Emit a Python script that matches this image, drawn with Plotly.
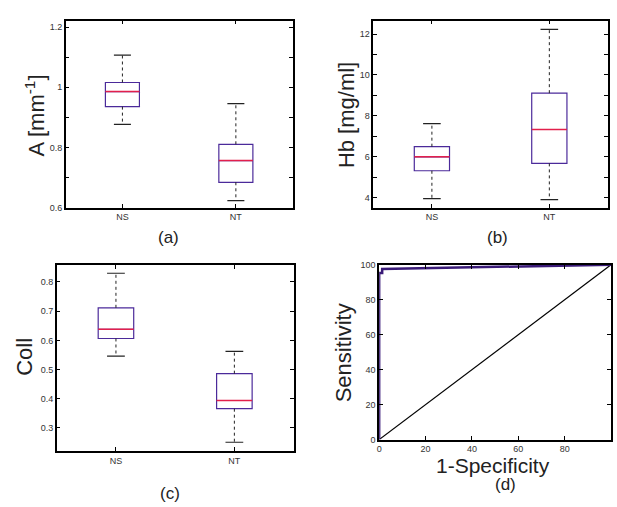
import plotly.graph_objects as go

W, H = 617, 507

categories = ["NS", "NT"]

# Panel (a): A [mm^-1]
a_lower = [0.877, 0.624]
a_q1 = [0.936, 0.685]
a_median = [0.986, 0.757]
a_q3 = [1.016, 0.811]
a_upper = [1.107, 0.946]

# Panel (b): Hb [mg/ml]
b_lower = [3.94, 3.90]
b_q1 = [5.31, 5.67]
b_median = [5.99, 7.33]
b_q3 = [6.49, 9.11]
b_upper = [7.62, 12.23]

# Panel (c): Coll
c_lower = [0.546, 0.251]
c_q1 = [0.6065, 0.366]
c_median = [0.638, 0.394]
c_q3 = [0.7116, 0.486]
c_upper = [0.830, 0.562]

# Panel (d): ROC
roc_fpr = [0, 0, 1.3, 1.3, 100]
roc_tpr = [0, 95.3, 95.3, 97.6, 100]
chance_x = [0, 100]
chance_y = [0, 100]

BOX_C = "#4b2a9a"
MED_C = "#e2204c"
ROC_C = "#3a1a78"
FONT = "Liberation Sans, Arial, sans-serif"
TICK_FONT = dict(family=FONT, size=9, color="#333")

fig = go.Figure()

def add_box(xa, ya, lo, q1, med, q3, up):
    xs = [1, 2]
    fig.add_trace(go.Box(
        x=xs, q1=q1, median=med, q3=q3, lowerfence=q1, upperfence=q3,
        width=0.3, whiskerwidth=0, boxpoints=False,
        line=dict(color=BOX_C, width=1.2), fillcolor="rgba(0,0,0,0)",
        xaxis=xa, yaxis=ya, showlegend=False, hoverinfo="skip"))
    hw, cw = 0.15, 0.075
    mx, my, wx, wy, cx, cy = [], [], [], [], [], []
    for i, x in enumerate(xs):
        mx += [x - hw, x + hw, None]
        my += [med[i], med[i], None]
        wx += [x, x, None, x, x, None]
        wy += [q3[i], up[i], None, q1[i], lo[i], None]
        cx += [x - cw, x + cw, None, x - cw, x + cw, None]
        cy += [up[i], up[i], None, lo[i], lo[i], None]
    fig.add_trace(go.Scatter(x=wx, y=wy, mode="lines", line=dict(color="#222", width=1, dash="3px,3px"),
                             xaxis=xa, yaxis=ya, showlegend=False, hoverinfo="skip"))
    fig.add_trace(go.Scatter(x=cx, y=cy, mode="lines", line=dict(color="#222", width=1.2),
                             xaxis=xa, yaxis=ya, showlegend=False, hoverinfo="skip"))
    fig.add_trace(go.Scatter(x=mx, y=my, mode="lines", line=dict(color=MED_C, width=1.5),
                             xaxis=xa, yaxis=ya, showlegend=False, hoverinfo="skip"))

add_box("x", "y", a_lower, a_q1, a_median, a_q3, a_upper)
add_box("x2", "y2", b_lower, b_q1, b_median, b_q3, b_upper)
add_box("x3", "y3", c_lower, c_q1, c_median, c_q3, c_upper)

fig.add_trace(go.Scatter(x=chance_x, y=chance_y, mode="lines", line=dict(color="black", width=1.2),
                         xaxis="x4", yaxis="y4", showlegend=False, hoverinfo="skip"))
fig.add_trace(go.Scatter(x=roc_fpr, y=roc_tpr, mode="lines", line=dict(color=ROC_C, width=2.5),
                         xaxis="x4", yaxis="y4", showlegend=False, hoverinfo="skip"))

def dom_x(x0, x1):
    return [x0 / W, x1 / W]

def dom_y(y0, y1):
    return [1 - y1 / H, 1 - y0 / H]

common = dict(showline=True, linecolor="black", linewidth=1.5, mirror="allticks",
              ticks="inside", ticklen=4, tickcolor="black", tickfont=TICK_FONT,
              showgrid=False, zeroline=False, fixedrange=True)

def cat_axis(dom, anchor):
    return dict(common, domain=dom, anchor=anchor, range=[0.5, 2.5],
                tickmode="array", tickvals=[1, 2], ticktext=categories)

fig.update_layout(
    width=W, height=H, margin=dict(l=0, r=0, t=0, b=0),
    paper_bgcolor="white", plot_bgcolor="white",
    xaxis=cat_axis(dom_x(63, 291), "y"),
    yaxis=dict(common, domain=dom_y(16, 207), anchor="x", range=[0.6, 1.221],
               tick0=0.6, dtick=0.2, minor=dict(ticks="inside", ticklen=4, dtick=0.1, tick0=0.6, tickcolor="black")),
    xaxis2=cat_axis(dom_x(372, 608), "y2"),
    yaxis2=dict(common, domain=dom_y(16, 207), anchor="x2", range=[3.49, 12.66],
                tick0=4, dtick=2, minor=dict(ticks="inside", ticklen=4, dtick=1, tick0=4, tickcolor="black")),
    xaxis3=cat_axis(dom_x(54, 292), "y3"),
    yaxis3=dict(common, domain=dom_y(265, 455), anchor="x3", range=[0.221, 0.859],
                tick0=0.3, dtick=0.1),
    xaxis4=dict(common, domain=dom_x(378, 611), anchor="y4", range=[0, 100], tick0=0, dtick=20),
    yaxis4=dict(common, domain=dom_y(265, 443.3), anchor="x4", range=[0, 100], tick0=0, dtick=20),
)

def ann(text, x, y, size, angle=0):
    fig.add_annotation(text=text, x=x / W, y=1 - y / H, xref="paper", yref="paper",
                       showarrow=False, textangle=angle, xanchor="center", yanchor="middle",
                       font=dict(family=FONT, size=size, color="#222"))

ann("A [mm<sup>-1</sup>]", 32, 113, 22, -90)
ann("Hb [mg/ml]", 345, 112, 22, -90)
ann("Coll", 22, 359, 22, -90)
ann("Sensitivity", 343, 355, 22, -90)
ann("1-Specificity", 492, 470, 21)
ann("(a)", 166, 237, 17)
ann("(b)", 497, 237, 17)
ann("(c)", 168, 498, 17)
ann("(d)", 505, 489, 17)

post = (
    "document.body.style.margin='0px';document.body.style.overflow='hidden';"
    "document.documentElement.style.overflow='hidden';"
    "var mb=document.querySelectorAll('.modebar-container');"
    "for(var i=0;i<mb.length;i++){mb[i].style.display='none';}"
)
fig.write_html("out.html", post_script=post)
